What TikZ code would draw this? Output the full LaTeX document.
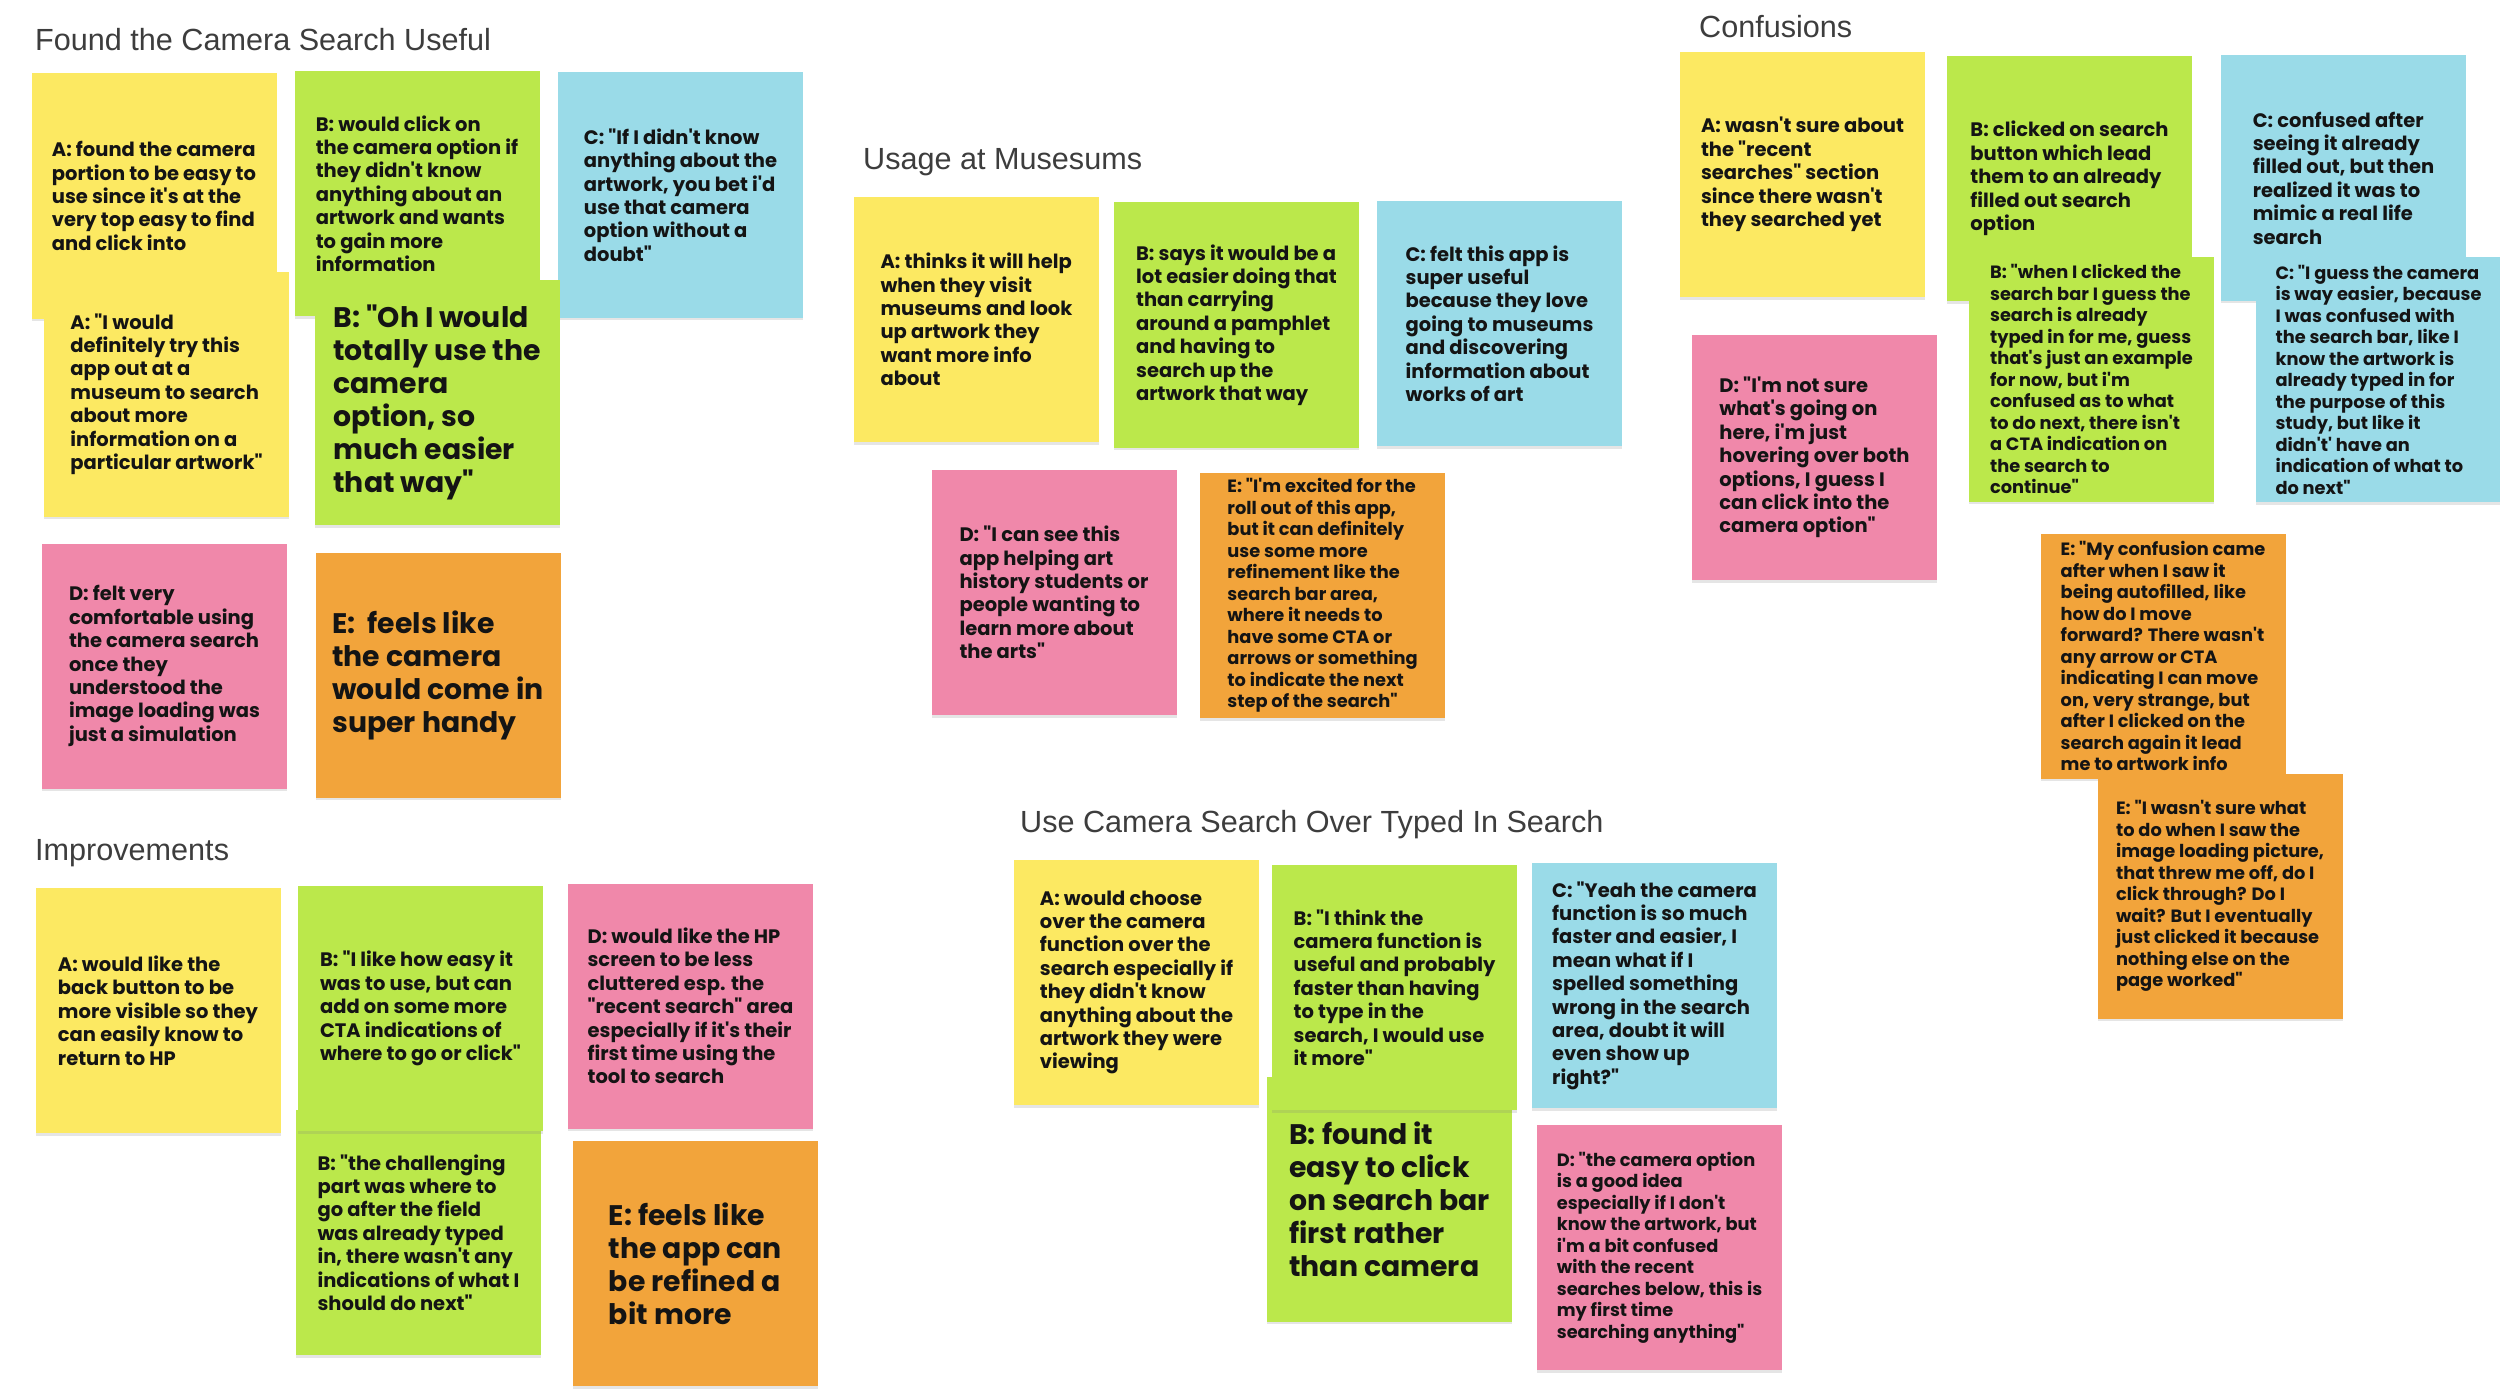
\documentclass[tikz,border=0pt]{standalone}
\usepackage{fontspec}
\setmainfont{Poppins}[Ligatures=TeXOff]
\newfontfamily\headfont{Liberation Sans}
\usetikzlibrary{shadows}
\definecolor{stickyyellow}{HTML}{FCE962}
\definecolor{stickygreen}{HTML}{BBE84B}
\definecolor{stickyblue}{HTML}{9ADBE8}
\definecolor{stickypink}{HTML}{F088AA}
\definecolor{stickyorange}{HTML}{F2A43B}
\definecolor{headgray}{HTML}{3D3D3D}
\newcommand\notefont{\fontsize{19.5pt}{23.4pt}\selectfont\bfseries}
\newcommand\smallnotefont{\fontsize{17.8pt}{21.5pt}\selectfont\bfseries}
\newcommand\bignotefont{\fontsize{28.3pt}{33pt}\selectfont\bfseries}
\begin{document}
\begin{tikzpicture}[x=1pt,y=-1pt,
  sticky/.style={minimum width=245pt,minimum height=245pt,inner sep=0pt,align=left,font=\notefont,text=black!92,
    drop shadow={shadow xshift=0pt,shadow yshift=-2.5pt,opacity=0.2}},
  heading/.style={anchor=west,inner sep=0pt,font=\headfont\fontsize{30.6pt}{36pt}\selectfont,text=headgray}]
\fill[white] (0,0) rectangle (2500,1399);
\useasboundingbox (0,0) rectangle (2500,1399);

\node[heading] (hFound) at (35,40) {Found the Camera Search Useful};
\node[sticky,fill=stickyyellow] (foundA) at (154,196) {A: found the camera\\portion to be easy to\\use since it's at the\\very top easy to find\\and click into};
\node[sticky,fill=stickygreen] (foundB) at (417,193.5) {B: would click on\\the camera option if\\they didn't know\\anything about an\\artwork and wants\\to gain more\\information};
\node[sticky,fill=stickyblue] (foundC) at (680.5,195) {C: "If I didn't know\\anything about the\\artwork, you bet i'd\\use that camera\\option without a\\doubt"};
\node[sticky,fill=stickyyellow] (foundA2) at (166.5,394) {A: "I would\\definitely try this\\app out at a\\museum to search\\about more\\information on a\\particular artwork"};
\node[sticky,fill=stickygreen,font=\bignotefont] (foundB2) at (437,402.5) {B: "Oh I would\\totally use the\\camera\\option, so\\much easier\\that way"};
\node[sticky,fill=stickypink] (foundD) at (164.5,666) {D: felt very\\comfortable using\\the camera search\\once they\\understood the\\image loading was\\just a simulation};
\node[sticky,fill=stickyorange,font=\bignotefont] (foundE) at (438,675) {E:\ \ feels like\\the camera\\would come in\\super handy};

\node[heading] (hMuse) at (863,162) {Usage at Musesums};
\node[sticky,fill=stickyyellow] (museA) at (976.5,319.5) {A: thinks it will help\\when they visit\\museums and look\\up artwork they\\want more info\\about};
\node[sticky,fill=stickygreen] (museB) at (1236.5,325) {B: says it would be a\\lot easier doing that\\than carrying\\around a pamphlet\\and having to\\search up the\\artwork that way};
\node[sticky,fill=stickyblue] (museC) at (1499.5,323.5) {C: felt this app is\\super useful\\because they love\\going to museums\\and discovering\\information about\\works of art};
\node[sticky,fill=stickypink] (museD) at (1054,592.5) {D: "I can see this\\app helping art\\history students or\\people wanting to\\learn more about\\the arts"};
\node[sticky,fill=stickyorange,font=\smallnotefont] (museE) at (1322.5,595.5) {E: "I'm excited for the\\roll out of this app,\\but it can definitely\\use some more\\refinement like the\\search bar area,\\where it needs to\\have some CTA or\\arrows or something\\to indicate the next\\step of the search"};

\node[heading] (hConf) at (1699,27) {Confusions};
\node[sticky,fill=stickyyellow] (confA) at (1802.5,174.5) {A: wasn't sure about\\the "recent\\searches" section\\since there wasn't\\they searched yet};
\node[sticky,fill=stickygreen] (confB) at (2069.5,178.5) {B: clicked on search\\button which lead\\them to an already\\filled out search\\option};
\node[sticky,fill=stickyblue] (confC) at (2343.5,178) {C: confused after\\seeing it already\\filled out, but then\\realized it was to\\mimic a real life\\search};
\node[sticky,fill=stickypink] (confD) at (1814.5,457.5) {D: "I'm not sure\\what's going on\\here, i'm just\\hovering over both\\options, I guess I\\can click into the\\camera option"};
\node[sticky,fill=stickygreen,font=\smallnotefont] (confB2) at (2091.5,379) {B: "when I clicked the\\search bar I guess the\\search is already\\typed in for me, guess\\that's just an example\\for now, but i'm\\confused as to what\\to do next, there isn't\\a CTA indication on\\the search to\\continue"};
\node[sticky,fill=stickyblue,font=\smallnotefont] (confC2) at (2378.5,379.5) {C: "I guess the camera\\is way easier, because\\I was confused with\\the search bar, like I\\know the artwork is\\already typed in for\\the purpose of this\\study, but like it\\didn't' have an\\indication of what to\\do next"};
\node[sticky,fill=stickyorange,font=\smallnotefont] (confE) at (2163,656) {E: "My confusion came\\after when I saw it\\being autofilled, like\\how do I move\\forward? There wasn't\\any arrow or CTA\\indicating I can move\\on, very strange, but\\after I clicked on the\\search again it lead\\me to artwork info};
\node[sticky,fill=stickyorange,font=\smallnotefont] (confE2) at (2220,896) {E: "I wasn't sure what\\to do when I saw the\\image loading picture,\\that threw me off, do I\\click through? Do I\\wait? But I eventually\\just clicked it because\\nothing else on the\\page worked"};

\node[heading] (hImp) at (35,853) {Improvements};
\node[sticky,fill=stickyyellow] (impA) at (158,1010.5) {A: would like the\\back button to be\\more visible so they\\can easily know to\\return to HP};
\node[sticky,fill=stickygreen] (impB2) at (418.5,1232.5) {B: "the challenging\\part was where to\\go after the field\\was already typed\\in, there wasn't any\\indications of what I\\should do next"};
\node[sticky,fill=stickygreen] (impB) at (420.5,1008.5) {B: "I like how easy it\\was to use, but can\\add on some more\\CTA indications of\\where to go or click"};
\node[sticky,fill=stickypink] (impD) at (690.5,1006) {D: would like the HP\\screen to be less\\cluttered esp. the\\"recent search" area\\especially if it's their\\first time using the\\tool to search};
\node[sticky,fill=stickyorange,font=\bignotefont] (impE) at (695.5,1263.5) {E: feels like\\the app can\\be refined a\\bit more};

\node[heading] (hCam) at (1020,825) {Use Camera Search Over Typed In Search};
\node[sticky,fill=stickyyellow] (camA) at (1136.5,982.5) {A: would choose\\over the camera\\function over the\\search especially if\\they didn't know\\anything about the\\artwork they were\\viewing};
\node[sticky,fill=stickygreen,font=\bignotefont] (camB2) at (1389.5,1199) {B: found it\\easy to click\\on search bar\\first rather\\than camera};
\node[sticky,fill=stickygreen] (camB) at (1394.5,987.5) {B: "I think the\\camera function is\\useful and probably\\faster than having\\to type in the\\search, I would use\\it more"};
\node[sticky,fill=stickyblue] (camC) at (1654.5,985.5) {C: "Yeah the camera\\function is so much\\faster and easier, I\\mean what if I\\spelled something\\wrong in the search\\area, doubt it will\\even show up\\right?"};
\node[sticky,fill=stickypink,font=\smallnotefont] (camD) at (1659.5,1247.5) {D: "the camera option\\is a good idea\\especially if I don't\\know the artwork, but\\i'm a bit confused\\with the recent\\searches below, this is\\my first time\\searching anything"};
\end{tikzpicture}
\end{document}
